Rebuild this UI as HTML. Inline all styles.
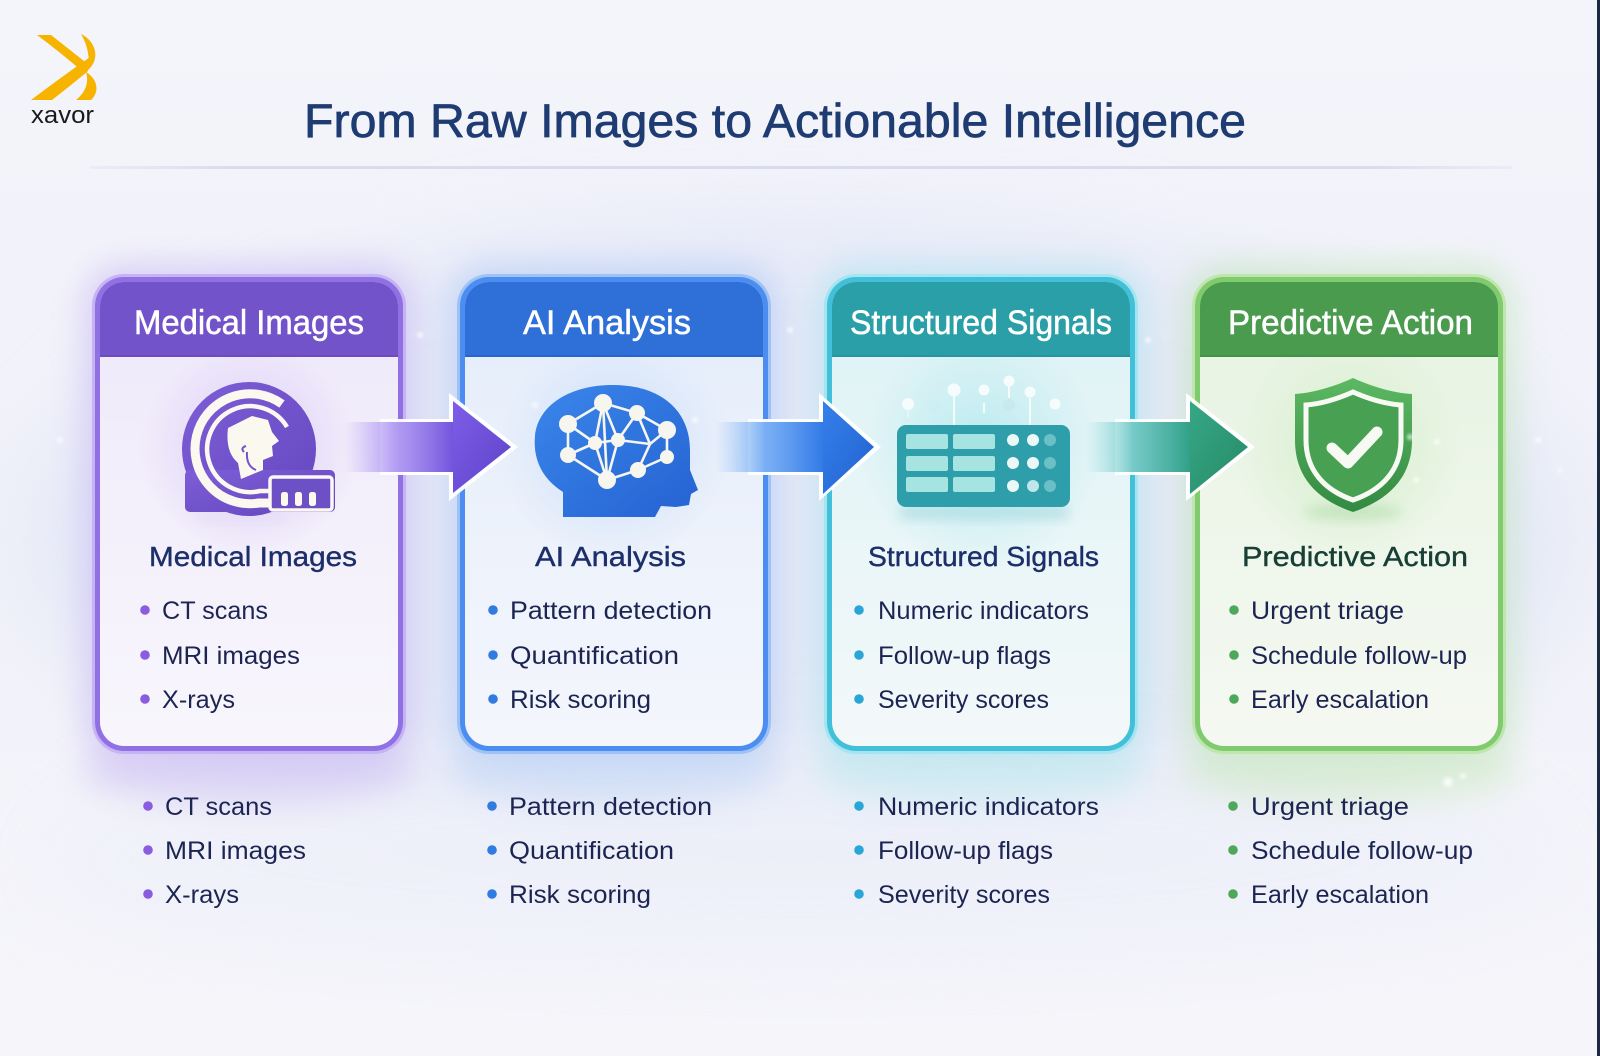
<!DOCTYPE html>
<html>
<head>
<meta charset="utf-8">
<style>
html,body{margin:0;padding:0;background:#f3f3f9;}
svg{display:block;}
text{font-family:"Liberation Sans",sans-serif;}
</style>
</head>
<body>
<svg width="1600" height="1056" viewBox="0 0 1600 1056" xmlns="http://www.w3.org/2000/svg">
<defs>
  <filter id="blur40" x="-50%" y="-50%" width="200%" height="200%"><feGaussianBlur stdDeviation="40"/></filter>
  <filter id="blur16" x="-50%" y="-50%" width="200%" height="200%"><feGaussianBlur stdDeviation="16"/></filter>
  <filter id="blur6" x="-50%" y="-50%" width="200%" height="200%"><feGaussianBlur stdDeviation="6"/></filter>
  <filter id="blur2" x="-50%" y="-50%" width="200%" height="200%"><feGaussianBlur stdDeviation="1.5"/></filter>

  <linearGradient id="bg" x1="0" y1="0" x2="0" y2="1">
    <stop offset="0" stop-color="#f4f4fb"/>
    <stop offset="0.5" stop-color="#f0f1f9"/>
    <stop offset="1" stop-color="#f6f6fa"/>
  </linearGradient>

  <linearGradient id="sep" x1="0" y1="0" x2="1" y2="0">
    <stop offset="0" stop-color="#dcdcef" stop-opacity="0.3"/>
    <stop offset="0.1" stop-color="#d9daee"/>
    <stop offset="0.9" stop-color="#d9daee"/>
    <stop offset="1" stop-color="#dcdcef" stop-opacity="0.3"/>
  </linearGradient>

  <linearGradient id="in1" x1="0" y1="0" x2="0" y2="1">
    <stop offset="0" stop-color="#eee8fa"/>
    <stop offset="0.45" stop-color="#f3effb"/>
    <stop offset="1" stop-color="#f8f6fc"/>
  </linearGradient>
  <linearGradient id="in2" x1="0" y1="0" x2="0" y2="1">
    <stop offset="0" stop-color="#e4edfb"/>
    <stop offset="0.45" stop-color="#ebf1fb"/>
    <stop offset="1" stop-color="#f4f6fc"/>
  </linearGradient>
  <linearGradient id="in3" x1="0" y1="0" x2="0" y2="1">
    <stop offset="0" stop-color="#dcf2f5"/>
    <stop offset="0.45" stop-color="#e7f5f7"/>
    <stop offset="1" stop-color="#f3f8f9"/>
  </linearGradient>
  <linearGradient id="in4" x1="0" y1="0" x2="0" y2="1">
    <stop offset="0" stop-color="#e5f2e0"/>
    <stop offset="0.45" stop-color="#edf6e9"/>
    <stop offset="1" stop-color="#f5f8f2"/>
  </linearGradient>

  <radialGradient id="gl1"><stop offset="0" stop-color="#d9c9f6" stop-opacity="0.9"/><stop offset="1" stop-color="#d9c9f6" stop-opacity="0"/></radialGradient>
  <radialGradient id="gl2"><stop offset="0" stop-color="#c9dcf7" stop-opacity="0.9"/><stop offset="1" stop-color="#c9dcf7" stop-opacity="0"/></radialGradient>
  <radialGradient id="gl3"><stop offset="0" stop-color="#b5eaf0" stop-opacity="0.9"/><stop offset="1" stop-color="#b5eaf0" stop-opacity="0"/></radialGradient>
  <radialGradient id="gl4"><stop offset="0" stop-color="#d3edc8" stop-opacity="0.9"/><stop offset="1" stop-color="#d3edc8" stop-opacity="0"/></radialGradient>

  <linearGradient id="a1s" gradientUnits="userSpaceOnUse" x1="345" y1="0" x2="455" y2="0">
    <stop offset="0" stop-color="#a58af2" stop-opacity="0"/>
    <stop offset="0.45" stop-color="#9c80f0" stop-opacity="0.75"/>
    <stop offset="1" stop-color="#7052dc"/>
  </linearGradient>
  <linearGradient id="a1h" x1="0" y1="0" x2="1" y2="1">
    <stop offset="0" stop-color="#7e5ee8"/>
    <stop offset="1" stop-color="#5c42c8"/>
  </linearGradient>
  <linearGradient id="a2s" gradientUnits="userSpaceOnUse" x1="715" y1="0" x2="825" y2="0">
    <stop offset="0" stop-color="#7db4f4" stop-opacity="0"/>
    <stop offset="0.45" stop-color="#5c9df2" stop-opacity="0.8"/>
    <stop offset="1" stop-color="#2f78e6"/>
  </linearGradient>
  <linearGradient id="a2h" x1="0" y1="0" x2="1" y2="1">
    <stop offset="0" stop-color="#3580ea"/>
    <stop offset="1" stop-color="#2262d0"/>
  </linearGradient>
  <linearGradient id="a3s" gradientUnits="userSpaceOnUse" x1="1085" y1="0" x2="1192" y2="0">
    <stop offset="0" stop-color="#7fd8dc" stop-opacity="0"/>
    <stop offset="0.45" stop-color="#55bdbb" stop-opacity="0.8"/>
    <stop offset="1" stop-color="#2e9f86"/>
  </linearGradient>
  <linearGradient id="a3h" x1="0" y1="0" x2="1" y2="1">
    <stop offset="0" stop-color="#36a786"/>
    <stop offset="1" stop-color="#278a66"/>
  </linearGradient>

  <linearGradient id="head2" x1="0" y1="0" x2="1" y2="1">
    <stop offset="0" stop-color="#3a86ea"/>
    <stop offset="1" stop-color="#2562d2"/>
  </linearGradient>
  <linearGradient id="shield" x1="0" y1="0" x2="0" y2="1">
    <stop offset="0" stop-color="#5cb862"/>
    <stop offset="1" stop-color="#338a42"/>
  </linearGradient>
  <linearGradient id="mri" x1="0" y1="0" x2="1" y2="1">
    <stop offset="0" stop-color="#7d5ed6"/>
    <stop offset="1" stop-color="#6547c0"/>
  </linearGradient>

  <clipPath id="c1"><rect x="100" y="282" width="298" height="464" rx="24"/></clipPath>
  <clipPath id="c2"><rect x="465" y="282" width="298" height="464" rx="24"/></clipPath>
  <clipPath id="c3"><rect x="832" y="282" width="298" height="464" rx="24"/></clipPath>
  <clipPath id="c4"><rect x="1200" y="282" width="298" height="464" rx="24"/></clipPath>
</defs>

<!-- background -->
<rect x="0" y="0" width="1600" height="1056" fill="url(#bg)"/>
<ellipse cx="800" cy="540" rx="780" ry="330" fill="#e3e7f7" opacity="0.75" filter="url(#blur40)"/>
<ellipse cx="800" cy="860" rx="760" ry="110" fill="#eef0f9" opacity="0.8" filter="url(#blur40)"/>

<!-- card halos -->
<rect x="84" y="264" width="330" height="500" rx="40" fill="#b49bf0" opacity="0.4" filter="url(#blur16)"/>
<rect x="449" y="264" width="330" height="500" rx="40" fill="#92b7f2" opacity="0.4" filter="url(#blur16)"/>
<rect x="816" y="264" width="330" height="500" rx="40" fill="#8fdde8" opacity="0.4" filter="url(#blur16)"/>
<rect x="1184" y="264" width="330" height="500" rx="40" fill="#a9e09b" opacity="0.4" filter="url(#blur16)"/>
<ellipse cx="249" cy="770" rx="170" ry="35" fill="#cfc2f3" opacity="0.55" filter="url(#blur16)"/>
<ellipse cx="614" cy="770" rx="170" ry="35" fill="#c2d6f5" opacity="0.55" filter="url(#blur16)"/>
<ellipse cx="981" cy="770" rx="170" ry="35" fill="#bfe8ee" opacity="0.55" filter="url(#blur16)"/>
<ellipse cx="1349" cy="770" rx="170" ry="35" fill="#cfeac4" opacity="0.55" filter="url(#blur16)"/>

<!-- separator -->
<rect x="90" y="166" width="1422" height="3" fill="url(#sep)"/>

<!-- logo -->
<g fill="#f6b400">
  <path d="M37 35 L51 35 Q70 50 89 65 L83 72 Q60 52 37 35 Z"/>
  <path d="M31 100 Q60 78 93 55 Q92 65 87 72 Q70 86 52 100 Z"/>
  <path d="M81 34 C97 42 100 60 88 70 C90 58 88 46 81 34 Z"/>
  <path d="M86 72 C99 80 99 93 91 100 L76 100 C86 92 89 82 86 72 Z"/>
</g>
<text x="31" y="123" font-size="24" fill="#1a1a1a" textLength="63" lengthAdjust="spacingAndGlyphs">xavor</text>

<!-- title -->
<text x="304" y="137" font-size="47" fill="#1f3c72" stroke="#1f3c72" stroke-width="0.7" textLength="942" lengthAdjust="spacingAndGlyphs">From Raw Images to Actionable Intelligence</text>

<!-- ================= CARD 1 ================= -->
<rect x="92" y="274" width="314" height="480" rx="32" fill="#c6b3f3"/>
<rect x="95" y="277" width="308" height="474" rx="29" fill="#9071e4"/>
<g clip-path="url(#c1)">
  <rect x="100" y="282" width="298" height="464" fill="url(#in1)"/>
  <circle cx="249" cy="450" r="110" fill="url(#gl1)"/>
  <rect x="100" y="282" width="298" height="75" fill="#7353c9"/>
  <rect x="100" y="355" width="298" height="2" fill="#6546bb" opacity="0.6"/>
</g>
<text x="134" y="334" font-size="34" fill="#ffffff" stroke="#ffffff" stroke-width="0.5" textLength="230" lengthAdjust="spacingAndGlyphs">Medical Images</text>

<!-- MRI icon -->
<g>
  <rect x="196" y="512" width="90" height="10" fill="#e2dbf5" opacity="0.6" filter="url(#blur6)"/>
  <circle cx="249" cy="449" r="67" fill="url(#mri)"/>
  <rect x="185" y="470" width="150" height="42" rx="5" fill="url(#mri)"/>
  <path d="M282 404 A55 55 0 1 0 259 503 L275 503" fill="none" stroke="#fbf8f0" stroke-width="9"/>
  <path d="M287 427 A43 43 0 1 0 260 491 L275 491" fill="none" stroke="#fbf8f0" stroke-width="4.5"/>
  <path d="M228 428 L252 416 L268 420 L272 432 L279 441 L272 446 L273 456 L263 460 L263 470 L241 479 L238 463 Q225 452 228 428 Z" fill="#fbf8f0"/>
  <path d="M244 452 Q240 448 246 446 M247 452 Q246 466 256 470" fill="none" stroke="#7353c9" stroke-width="2"/>
  <rect x="270" y="477" width="62" height="33" rx="3" fill="#6e50c6" stroke="#fbf8f0" stroke-width="3.5"/>
  <rect x="281" y="492" width="7" height="14" rx="2.5" fill="#fbf8f0"/>
  <rect x="295" y="492" width="7" height="14" rx="2.5" fill="#fbf8f0"/>
  <rect x="309" y="492" width="7" height="14" rx="2.5" fill="#fbf8f0"/>
</g>

<text x="149" y="566" font-size="28" fill="#1d2f6a" stroke="#1d2f6a" stroke-width="0.4" textLength="208" lengthAdjust="spacingAndGlyphs">Medical Images</text>
<g fill="#8a5ce0">
  <circle cx="145" cy="610" r="4.8"/><circle cx="145" cy="655" r="4.8"/><circle cx="145" cy="699" r="4.8"/>
</g>
<g font-size="25" fill="#1c2452">
  <text x="162" y="619" textLength="106" lengthAdjust="spacingAndGlyphs">CT scans</text>
  <text x="162" y="664" textLength="138" lengthAdjust="spacingAndGlyphs">MRI images</text>
  <text x="162" y="708" textLength="73" lengthAdjust="spacingAndGlyphs">X-rays</text>
</g>

<!-- ================= CARD 2 ================= -->
<rect x="457" y="274" width="314" height="480" rx="32" fill="#9fc2f5"/>
<rect x="460" y="277" width="308" height="474" rx="29" fill="#4b8df0"/>
<g clip-path="url(#c2)">
  <rect x="465" y="282" width="298" height="464" fill="url(#in2)"/>
  <circle cx="614" cy="448" r="115" fill="url(#gl2)"/>
  <rect x="465" y="282" width="298" height="75" fill="#2f6fd8"/>
  <rect x="465" y="355" width="298" height="2" fill="#245ec4" opacity="0.6"/>
</g>
<text x="523" y="334" font-size="34" fill="#ffffff" stroke="#ffffff" stroke-width="0.5" textLength="168" lengthAdjust="spacingAndGlyphs">AI Analysis</text>

<!-- Head icon -->
<g>
  <path d="M563 517 L563 492 C541 478 533 458 535 436 C538 405 570 385 613 385 C660 385 690 410 690 450 L690 470 L698 490 L691 494 L689 505 L676 507 L661 506 L655 517 Z" fill="url(#head2)"/>
  <g stroke="#f6f6ef" stroke-width="2.6" fill="none">
    <path d="M603 403 L568 424 M603 403 L637 413 M603 403 L595 443 M603 403 L618 440 M603 403 L607 480
             M568 424 L595 443 M568 424 L568 455 M595 443 L618 440 M595 443 L568 455 M595 443 L607 480
             M618 440 L637 413 M618 440 L607 480 M618 440 L650 444 M637 413 L667 430 M637 413 L650 444
             M667 430 L667 457 M650 444 L667 430 M650 444 L638 470 M638 470 L667 457 M638 470 L607 480 M568 455 L607 480"/>
  </g>
  <g fill="#f6f6ef">
    <circle cx="603" cy="403" r="9"/>
    <circle cx="637" cy="413" r="8"/>
    <circle cx="568" cy="424" r="9"/>
    <circle cx="667" cy="430" r="9"/>
    <circle cx="595" cy="443" r="7"/>
    <circle cx="618" cy="440" r="7"/>
    <circle cx="568" cy="455" r="8"/>
    <circle cx="667" cy="457" r="7"/>
    <circle cx="638" cy="470" r="8"/>
    <circle cx="607" cy="480" r="9"/>
  </g>
</g>

<text x="535" y="566" font-size="28" fill="#1d2f6a" stroke="#1d2f6a" stroke-width="0.4" textLength="151" lengthAdjust="spacingAndGlyphs">AI Analysis</text>
<g fill="#2f7be0">
  <circle cx="493" cy="610" r="4.8"/><circle cx="493" cy="655" r="4.8"/><circle cx="493" cy="699" r="4.8"/>
</g>
<g font-size="25" fill="#1c2452">
  <text x="510" y="619" textLength="202" lengthAdjust="spacingAndGlyphs">Pattern detection</text>
  <text x="510" y="664" textLength="169" lengthAdjust="spacingAndGlyphs">Quantification</text>
  <text x="510" y="708" textLength="141" lengthAdjust="spacingAndGlyphs">Risk scoring</text>
</g>

<!-- ================= CARD 3 ================= -->
<rect x="824" y="274" width="314" height="480" rx="32" fill="#a3e5f0"/>
<rect x="827" y="277" width="308" height="474" rx="29" fill="#42c0da"/>
<g clip-path="url(#c3)">
  <rect x="832" y="282" width="298" height="464" fill="url(#in3)"/>
  <circle cx="981" cy="450" r="120" fill="url(#gl3)"/>
  <rect x="832" y="282" width="298" height="75" fill="#2b9fa8"/>
  <rect x="832" y="355" width="298" height="2" fill="#23909a" opacity="0.6"/>
</g>
<text x="850" y="334" font-size="34" fill="#ffffff" stroke="#ffffff" stroke-width="0.5" textLength="262" lengthAdjust="spacingAndGlyphs">Structured Signals</text>

<!-- Panel icon -->
<g>
  <rect x="900" y="505" width="168" height="14" fill="#9fd6dc" opacity="0.6" filter="url(#blur6)"/>
  <g stroke="#f3fbfb" stroke-width="2">
    <line x1="954" y1="396" x2="954" y2="425"/>
    <line x1="984" y1="403" x2="984" y2="413"/>
    <line x1="1009" y1="386" x2="1009" y2="398"/>
    <line x1="1030" y1="398" x2="1030" y2="425"/>
    <line x1="908" y1="410" x2="908" y2="418" opacity="0.5"/>
  </g>
  <circle cx="908" cy="404" r="6" fill="#f6fcfc"/>
  <circle cx="934" cy="406" r="6" fill="#cdeef2"/>
  <circle cx="954" cy="390" r="6.5" fill="#f6fcfc"/>
  <circle cx="966" cy="400" r="5.5" fill="#cdeef2"/>
  <circle cx="984" cy="390" r="5.5" fill="#f6fcfc"/>
  <circle cx="1009" cy="381" r="5.5" fill="#f6fcfc"/>
  <circle cx="1009" cy="405" r="6" fill="#c6eaee"/>
  <circle cx="1030" cy="392" r="5.5" fill="#f6fcfc"/>
  <circle cx="1055" cy="404" r="5.5" fill="#f6fcfc"/>
  <rect x="897" y="425" width="173" height="82" rx="9" fill="#2e9eaa"/>
  <g fill="#a6e4e2">
    <rect x="906" y="434" width="42" height="15" rx="2"/>
    <rect x="953" y="434" width="42" height="15" rx="2"/>
    <rect x="906" y="456" width="42" height="15" rx="2"/>
    <rect x="953" y="456" width="42" height="15" rx="2"/>
    <rect x="906" y="477" width="42" height="15" rx="2"/>
    <rect x="953" y="477" width="42" height="15" rx="2"/>
  </g>
  <g fill="#ecf8f8">
    <circle cx="1013" cy="440" r="6"/><circle cx="1033" cy="440" r="6"/>
    <circle cx="1013" cy="463" r="6"/><circle cx="1033" cy="463" r="6"/>
    <circle cx="1013" cy="486" r="6"/>
  </g>
  <circle cx="1033" cy="486" r="6" fill="#bfe6e8"/>
  <g fill="#6cbfc6">
    <circle cx="1050" cy="440" r="6"/><circle cx="1050" cy="463" r="6"/><circle cx="1050" cy="486" r="6"/>
  </g>
</g>

<text x="868" y="566" font-size="28" fill="#1d2f6a" stroke="#1d2f6a" stroke-width="0.4" textLength="231" lengthAdjust="spacingAndGlyphs">Structured Signals</text>
<g fill="#2aa6d6">
  <circle cx="859" cy="610" r="4.8"/><circle cx="859" cy="655" r="4.8"/><circle cx="859" cy="699" r="4.8"/>
</g>
<g font-size="25" fill="#1c2452">
  <text x="878" y="619" textLength="211" lengthAdjust="spacingAndGlyphs">Numeric indicators</text>
  <text x="878" y="664" textLength="173" lengthAdjust="spacingAndGlyphs">Follow-up flags</text>
  <text x="878" y="708" textLength="171" lengthAdjust="spacingAndGlyphs">Severity scores</text>
</g>

<!-- ================= CARD 4 ================= -->
<rect x="1192" y="274" width="314" height="480" rx="32" fill="#bfe6ad"/>
<rect x="1195" y="277" width="308" height="474" rx="29" fill="#7fcb6e"/>
<g clip-path="url(#c4)">
  <rect x="1200" y="282" width="298" height="464" fill="url(#in4)"/>
  <circle cx="1349" cy="450" r="115" fill="url(#gl4)"/>
  <rect x="1200" y="282" width="298" height="75" fill="#4b9b4f"/>
  <rect x="1200" y="355" width="298" height="2" fill="#3f8a44" opacity="0.6"/>
</g>
<text x="1228" y="334" font-size="34" fill="#ffffff" stroke="#ffffff" stroke-width="0.5" textLength="245" lengthAdjust="spacingAndGlyphs">Predictive Action</text>

<!-- Shield icon -->
<g>
  <ellipse cx="1353" cy="512" rx="50" ry="8" fill="#b8dfb0" opacity="0.7" filter="url(#blur6)"/>
  <path d="M1353 378 C1375 388 1395 393 1412 394 L1412 440 C1412 478 1388 500 1353 512 C1318 500 1295 478 1295 440 L1295 394 C1311 393 1331 388 1353 378 Z" fill="url(#shield)"/>
  <path d="M1353 392 C1371 400 1388 404 1401 405 L1401 440 C1401 470 1382 490 1353 500 C1324 490 1306 470 1306 440 L1306 405 C1319 404 1335 400 1353 392 Z" fill="#48a052" stroke="#f7faf3" stroke-width="5"/>
  <path d="M1332 448 L1348 463 L1377 432" fill="none" stroke="#f7faf3" stroke-width="11" stroke-linecap="round" stroke-linejoin="round"/>
</g>

<text x="1242" y="566" font-size="28" fill="#173f35" stroke="#173f35" stroke-width="0.4" textLength="226" lengthAdjust="spacingAndGlyphs">Predictive Action</text>
<g fill="#4ea85a">
  <circle cx="1234" cy="610" r="4.8"/><circle cx="1234" cy="655" r="4.8"/><circle cx="1234" cy="699" r="4.8"/>
</g>
<g font-size="25" fill="#1c2452">
  <text x="1251" y="619" textLength="153" lengthAdjust="spacingAndGlyphs">Urgent triage</text>
  <text x="1251" y="664" textLength="216" lengthAdjust="spacingAndGlyphs">Schedule follow-up</text>
  <text x="1251" y="708" textLength="178" lengthAdjust="spacingAndGlyphs">Early escalation</text>
</g>

<!-- ================= ARROWS ================= -->
<polygon points="380,419 449,419 449,393 518,447 449,501 449,475 380,475" fill="#ffffff" opacity="0.95"/>
<rect x="345" y="422" width="110" height="50" fill="url(#a1s)"/>
<polygon points="453,401 511,447 453,493" fill="url(#a1h)"/>

<polygon points="748,419 819,419 819,393 881,447 819,501 819,475 748,475" fill="#ffffff" opacity="0.95"/>
<rect x="715" y="422" width="110" height="50" fill="url(#a2s)"/>
<polygon points="823,401 874,447 823,494" fill="url(#a2h)"/>

<polygon points="1115,419 1186,419 1186,393 1255,447 1186,501 1186,475 1115,475" fill="#ffffff" opacity="0.95"/>
<rect x="1085" y="422" width="107" height="50" fill="url(#a3s)"/>
<polygon points="1190,401 1248,447 1190,494" fill="url(#a3h)"/>

<!-- ================= BOTTOM LISTS ================= -->
<g fill="#8a5ce0">
  <circle cx="148" cy="806" r="4.8"/><circle cx="148" cy="850" r="4.8"/><circle cx="148" cy="894" r="4.8"/>
</g>
<g fill="#2f7be0">
  <circle cx="492" cy="806" r="4.8"/><circle cx="492" cy="850" r="4.8"/><circle cx="492" cy="894" r="4.8"/>
</g>
<g fill="#2aa6d6">
  <circle cx="859" cy="806" r="4.8"/><circle cx="859" cy="850" r="4.8"/><circle cx="859" cy="894" r="4.8"/>
</g>
<g fill="#4ea85a">
  <circle cx="1233" cy="806" r="4.8"/><circle cx="1233" cy="850" r="4.8"/><circle cx="1233" cy="894" r="4.8"/>
</g>
<g font-size="25" fill="#1c2452">
  <text x="165" y="815" textLength="107" lengthAdjust="spacingAndGlyphs">CT scans</text>
  <text x="165" y="859" textLength="141" lengthAdjust="spacingAndGlyphs">MRI images</text>
  <text x="165" y="903" textLength="74" lengthAdjust="spacingAndGlyphs">X-rays</text>

  <text x="509" y="815" textLength="203" lengthAdjust="spacingAndGlyphs">Pattern detection</text>
  <text x="509" y="859" textLength="165" lengthAdjust="spacingAndGlyphs">Quantification</text>
  <text x="509" y="903" textLength="142" lengthAdjust="spacingAndGlyphs">Risk scoring</text>

  <text x="878" y="815" textLength="221" lengthAdjust="spacingAndGlyphs">Numeric indicators</text>
  <text x="878" y="859" textLength="175" lengthAdjust="spacingAndGlyphs">Follow-up flags</text>
  <text x="878" y="903" textLength="172" lengthAdjust="spacingAndGlyphs">Severity scores</text>

  <text x="1251" y="815" textLength="158" lengthAdjust="spacingAndGlyphs">Urgent triage</text>
  <text x="1251" y="859" textLength="222" lengthAdjust="spacingAndGlyphs">Schedule follow-up</text>
  <text x="1251" y="903" textLength="178" lengthAdjust="spacingAndGlyphs">Early escalation</text>
</g>

<!-- sparkles -->
<g fill="#ffffff" opacity="0.7" filter="url(#blur2)">
  <circle cx="420" cy="335" r="3"/><circle cx="790" cy="330" r="3"/><circle cx="1148" cy="340" r="3"/>
  <circle cx="1538" cy="440" r="3"/><circle cx="1560" cy="470" r="2.5"/><circle cx="1410" cy="437" r="3"/>
  <circle cx="1437" cy="442" r="3"/><circle cx="1416" cy="480" r="3"/><circle cx="1448" cy="782" r="5"/>
  <circle cx="1463" cy="776" r="3"/><circle cx="60" cy="440" r="3"/><circle cx="535" cy="405" r="3"/>
  <circle cx="695" cy="420" r="3"/>
</g>

<!-- right edge dark line -->
<rect x="1597" y="0" width="3" height="1056" fill="#1b2a3e"/>
</svg>
</body>
</html>
